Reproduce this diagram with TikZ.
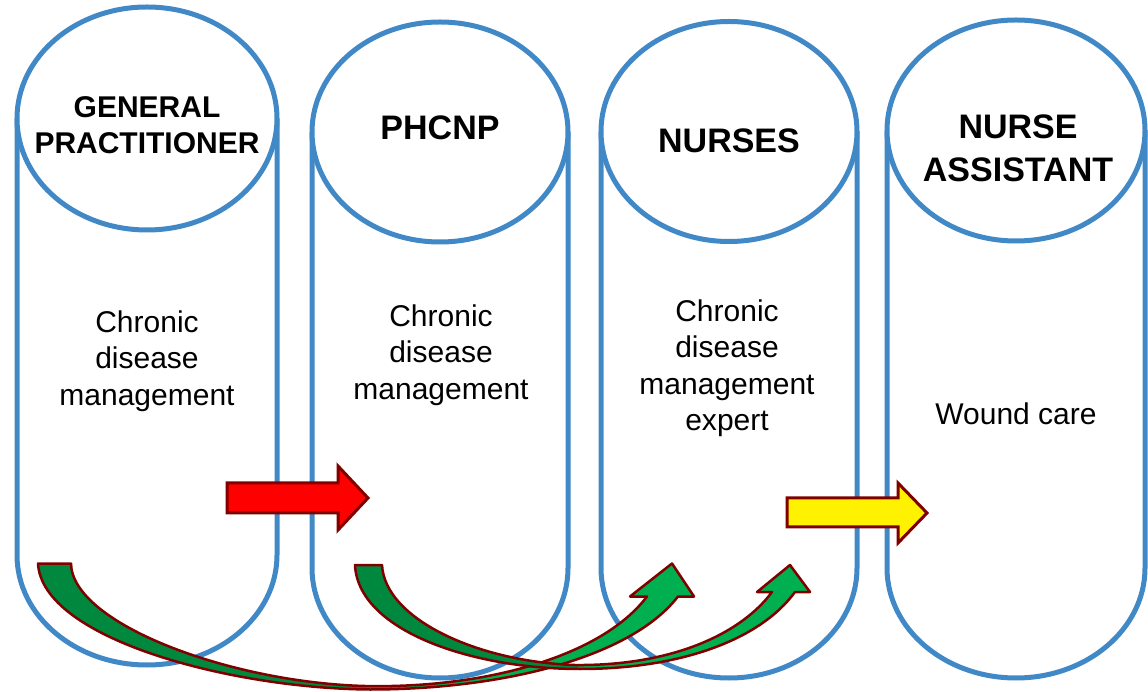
\documentclass[tikz,border=0pt]{standalone}
\usepackage{fontspec}
\setmainfont{Liberation Sans}
\usetikzlibrary{shapes.geometric}
\definecolor{capblue}{RGB}{65,136,199}
\definecolor{darkrim}{RGB}{128,0,0}
\definecolor{greendark}{RGB}{0,137,62}
\definecolor{greenlight}{RGB}{0,176,80}
\newcommand{\greenApath}{(38,127.5) .. controls (42,52.5) and (230,2.5) .. (370,1.5) .. controls (500,1.5) and (630,32.5) .. (678,94.5) -- (694,94.5) -- (672,127.5) -- (630,94.5) -- (647,94.5) .. controls (600,32.5) and (480,2.5) .. (365,5) .. controls (230,8.5) and (72,67.5) .. (71,127.5) -- cycle}
\newcommand{\greenBpath}{(355,126) .. controls (358,61) and (470,22) .. (580,22) .. controls (680,22) and (760,51) .. (795,99) -- (810,99) -- (790,126) -- (757,99) -- (772,99) .. controls (740,56) and (670,25) .. (575,26) .. controls (480,29) and (385,71) .. (382,126) -- cycle}
\begin{document}
\begin{tikzpicture}[x=1pt,y=1pt,
  capsule/.style={draw=capblue, line width=5pt},
  topoval/.style={ellipse, draw=capblue, line width=5pt, fill=white, inner sep=0pt},
  title/.style={font=\bfseries\fontsize{34}{43}\selectfont, align=center, inner sep=0pt},
  body/.style={font=\fontsize{30}{36.5}\selectfont, align=center, inner sep=0pt},
  blockarrow/.style={draw=darkrim, line width=3pt, line join=miter},
  curvedrim/.style={draw=darkrim, line width=2.5pt, line join=round}]
\useasboundingbox (0,0) rectangle (1148,691);
% capsules
\draw[capsule] (17,572.5) -- (17,136) arc[start angle=180, end angle=360, x radius=130, y radius=110] -- (277,572.5);
\draw[capsule] (312,559) -- (312,123) arc[start angle=180, end angle=360, x radius=128, y radius=110] -- (568,559);
\draw[capsule] (601,559.5) -- (601,123) arc[start angle=180, end angle=360, x radius=128, y radius=110] -- (857,559.5);
\draw[capsule] (887,560.5) -- (887,123) arc[start angle=180, end angle=360, x radius=129, y radius=110] -- (1145,560.5);
% top ellipses
\node[topoval, minimum width=260, minimum height=223] (gp) at (147,572.5) {};
\node[topoval, minimum width=256, minimum height=220] (phcnp) at (440,559) {};
\node[topoval, minimum width=256, minimum height=220] (nurses) at (729,559.5) {};
\node[topoval, minimum width=258, minimum height=221] (assist) at (1016,560.5) {};
% titles
\node[title, font=\bfseries\fontsize{30}{36}\selectfont] (gpt) at (147,566) {GENERAL\\PRACTITIONER};
\node[title] (phcnpt) at (440,563) {PHCNP};
\node[title] (nursest) at (729,550) {NURSES};
\node[title] (assistt) at (1018,542.5) {NURSE\\ASSISTANT};
% body texts
\node[body] (gpb) at (147,330) {Chronic\\disease\\management};
\node[body] (phcnpb) at (441,336) {Chronic\\disease\\management};
\node[body] (nursesb) at (727,323) {Chronic\\disease\\management\\expert};
\node[body] (assistb) at (1016,277) {Wound care};
% block arrows
\draw[blockarrow, fill=red] (227,208) -- (338,208) -- (338,225) -- (368,193) -- (338,161) -- (338,178) -- (227,178) -- cycle;
\draw[blockarrow, fill=yellow] (787,193) -- (898,193) -- (898,208) -- (927,178) -- (898,148) -- (898,164) -- (787,164) -- cycle;
% curved arrows
\fill[greenlight] \greenApath;
\begin{scope}
  \clip (0,0) rectangle (365,691);
  \fill[greendark] \greenApath;
\end{scope}
\draw[curvedrim] \greenApath;
\fill[greenlight] \greenBpath;
\begin{scope}
  \clip (0,0) rectangle (578,691);
  \fill[greendark] \greenBpath;
\end{scope}
\draw[curvedrim] \greenBpath;
\end{tikzpicture}
\end{document}
